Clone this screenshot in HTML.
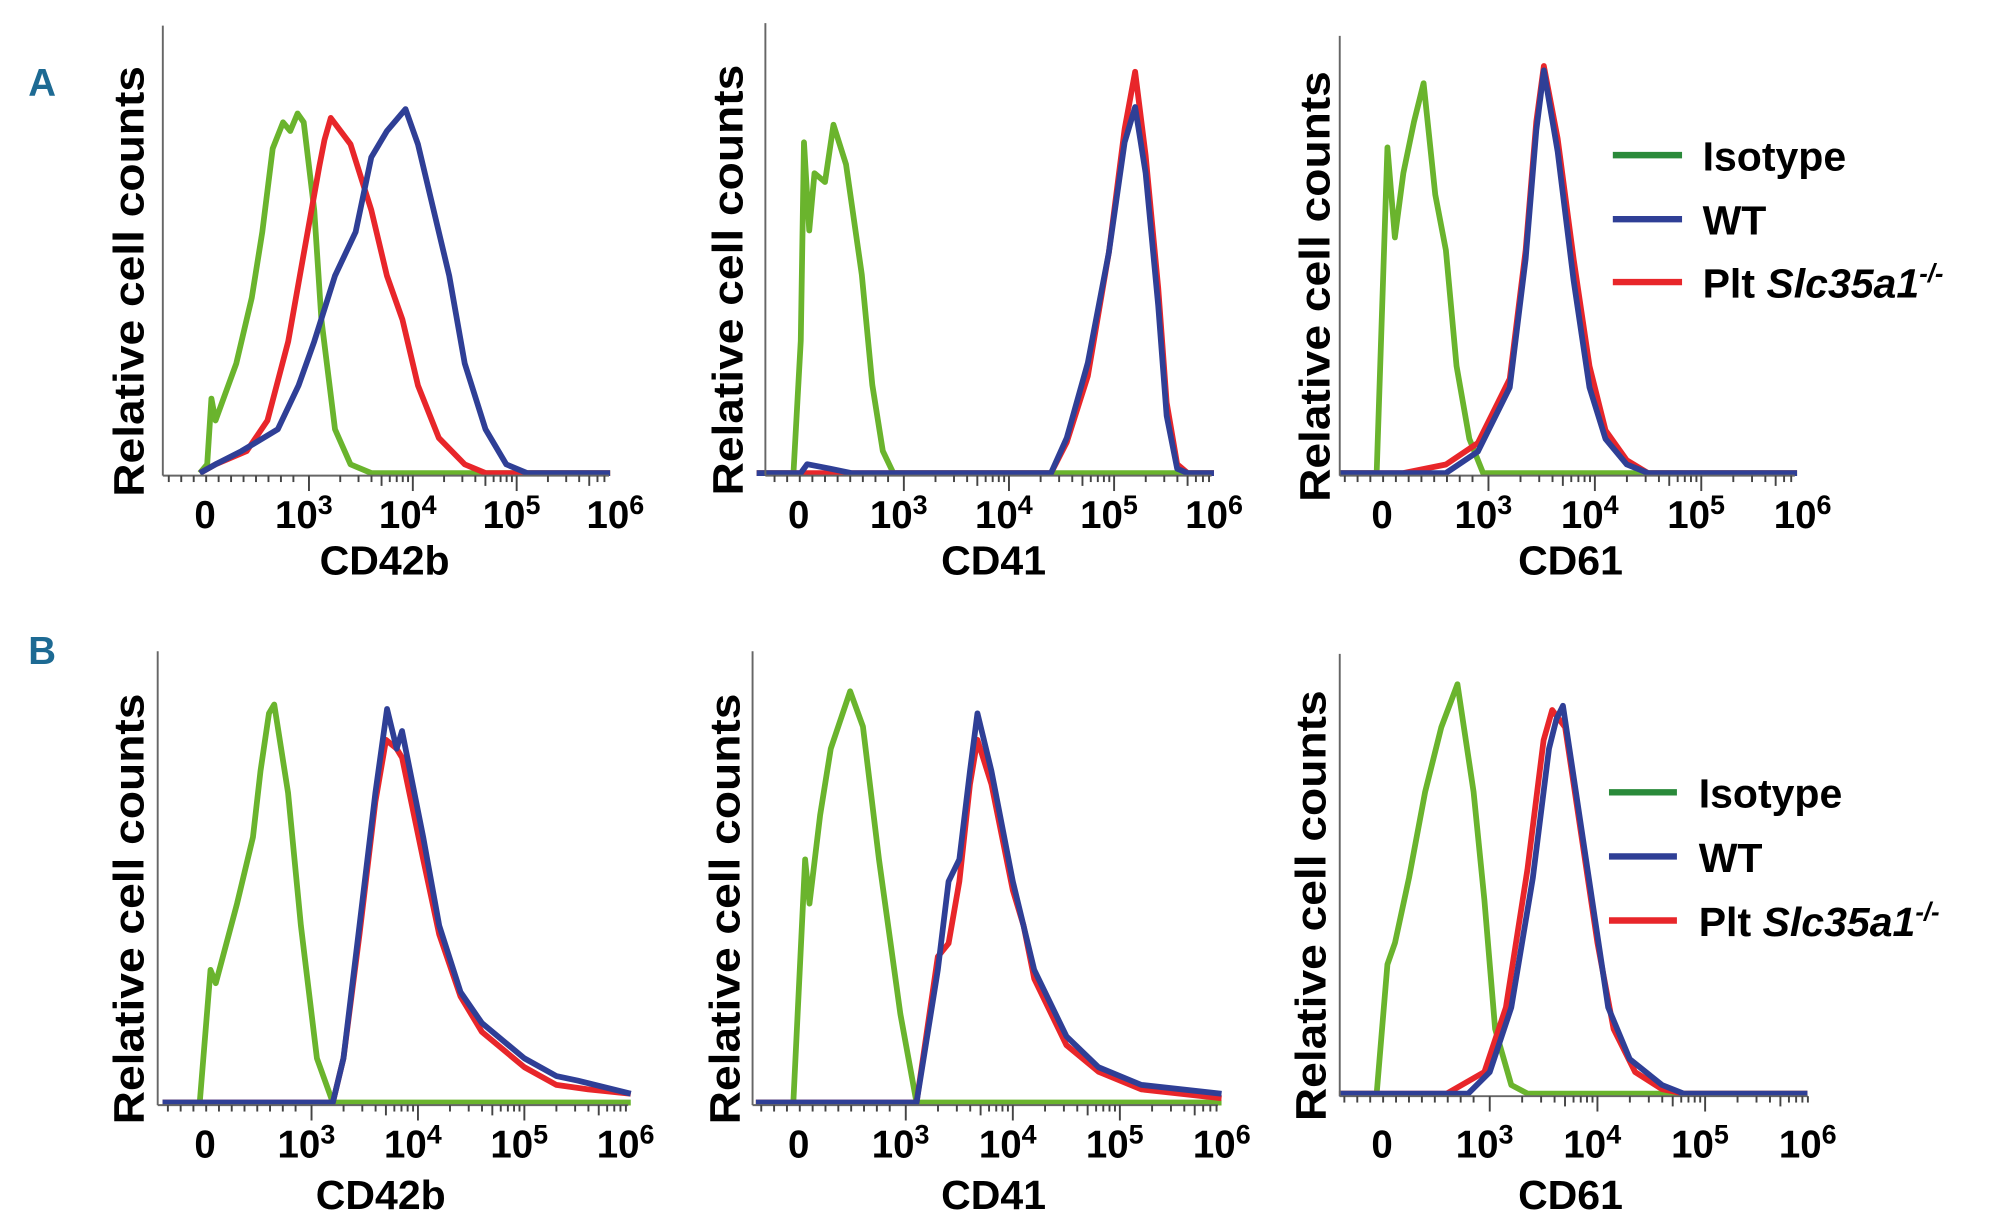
<!DOCTYPE html>
<html><head><meta charset="utf-8"><style>
html,body{margin:0;padding:0;background:#fff;}
svg{display:block;}
text{font-family:"Liberation Sans",sans-serif;font-weight:bold;fill:#000;}
</style></head><body>
<svg id="fig" width="2000" height="1230" viewBox="0 0 1560 959.4" xmlns="http://www.w3.org/2000/svg">
<text x="22" y="75" style="font-size:30px;fill:#1d6a93;font-family:'Liberation Sans Narrow','Liberation Sans',sans-serif">A</text>
<text x="22" y="518" style="font-size:30px;fill:#1d6a93;font-family:'Liberation Sans Narrow','Liberation Sans',sans-serif">B</text>
<g>
<line x1="1258" x2="1312" y1="121" y2="121" stroke="#2a8a3a" stroke-width="5"/>
<text x="1328" y="133" style="font-size:32px">Isotype</text>
<line x1="1258" x2="1312" y1="171" y2="171" stroke="#2f3f96" stroke-width="5"/>
<text x="1328" y="183" style="font-size:32px">WT</text>
<line x1="1258" x2="1312" y1="220" y2="220" stroke="#e8262a" stroke-width="5"/>
<text x="1328" y="232" style="font-size:32px">Plt <tspan font-style="italic">Slc35a1</tspan><tspan dy="-12" font-size="20" font-style="italic">-/-</tspan></text>
</g>
<g>
<line x1="1255" x2="1308" y1="618" y2="618" stroke="#2a8a3a" stroke-width="5"/>
<text x="1325" y="630" style="font-size:32px">Isotype</text>
<line x1="1255" x2="1308" y1="668" y2="668" stroke="#2f3f96" stroke-width="5"/>
<text x="1325" y="680" style="font-size:32px">WT</text>
<line x1="1255" x2="1308" y1="718" y2="718" stroke="#e8262a" stroke-width="5"/>
<text x="1325" y="730" style="font-size:32px">Plt <tspan font-style="italic">Slc35a1</tspan><tspan dy="-12" font-size="20" font-style="italic">-/-</tspan></text>
</g>
</svg>
<script>
// decade positions: 0 -> 0, 10^3 -> 1, 10^4 -> 2, 10^5 -> 3, 10^6 -> 4
const tickLabels = ["0","10","10","10","10"];
const tickExps = ["","3","4","5","6"];
const markers = ["CD42b","CD41","CD61","CD42b","CD41","CD61"];
// series: [position, relative height]
const a1Green=[[-0.05,0],[0.02,0.02],[0.06,0.17],[0.1,0.12],[0.3,0.25],[0.45,0.4],[0.55,0.55],[0.65,0.74],[0.75,0.8],[0.82,0.78],[0.89,0.82],[0.95,0.8],[1.05,0.6],[1.12,0.35],[1.25,0.1],[1.4,0.02],[1.6,0],[3.9,0]];
const a1Red=[[-0.05,0],[0.1,0.02],[0.4,0.05],[0.6,0.12],[0.8,0.3],[0.95,0.5],[1.1,0.7],[1.15,0.76],[1.21,0.81],[1.4,0.75],[1.6,0.6],[1.75,0.45],[1.9,0.35],[2.05,0.2],[2.25,0.08],[2.5,0.02],[2.7,0],[3.9,0]];
const a1Blue=[[-0.05,0],[0.1,0.02],[0.35,0.05],[0.7,0.1],[0.9,0.2],[1.05,0.3],[1.25,0.45],[1.45,0.55],[1.6,0.72],[1.75,0.78],[1.93,0.83],[2.05,0.75],[2.2,0.6],[2.35,0.45],[2.5,0.25],[2.7,0.1],[2.9,0.02],[3.1,0],[3.9,0]];
const a2Green=[[-0.4,0],[-0.05,0],[0.02,0.3],[0.05,0.75],[0.1,0.55],[0.15,0.68],[0.25,0.66],[0.33,0.79],[0.45,0.7],[0.6,0.45],[0.7,0.2],[0.8,0.05],[0.9,0],[3.95,0]];
const a2Red=[[-0.4,0],[2.4,0],[2.55,0.07],[2.75,0.22],[2.95,0.5],[3.1,0.78],[3.2,0.91],[3.3,0.72],[3.42,0.42],[3.5,0.16],[3.6,0.02],[3.7,0],[3.95,0]];
const a2Blue=[[-0.4,0],[0.02,0],[0.08,0.02],[0.3,0.01],[0.5,0],[2.4,0],[2.55,0.08],[2.75,0.25],[2.95,0.5],[3.1,0.75],[3.2,0.83],[3.3,0.68],[3.42,0.38],[3.5,0.13],[3.6,0.01],[3.7,0],[3.95,0]];
const a3Green=[[-0.4,0],[-0.05,0],[0.05,0.76],[0.12,0.55],[0.2,0.7],[0.3,0.82],[0.39,0.91],[0.5,0.65],[0.6,0.52],[0.7,0.25],[0.82,0.08],[0.95,0],[3.9,0]];
const a3Red=[[-0.4,0],[0.2,0],[0.6,0.02],[0.9,0.07],[1.2,0.22],[1.35,0.52],[1.45,0.82],[1.52,0.95],[1.65,0.78],[1.8,0.5],[1.95,0.25],[2.1,0.1],[2.3,0.03],[2.5,0],[3.9,0]];
const a3Blue=[[-0.4,0],[0.6,0],[0.9,0.05],[1.2,0.2],[1.35,0.5],[1.45,0.8],[1.52,0.94],[1.65,0.75],[1.8,0.45],[1.95,0.2],[2.1,0.08],[2.3,0.02],[2.5,0],[3.9,0]];
const b1Green=[[-0.4,0],[-0.05,0],[0.05,0.3],[0.1,0.27],[0.3,0.45],[0.45,0.6],[0.52,0.75],[0.6,0.88],[0.65,0.9],[0.78,0.7],[0.9,0.4],[1.05,0.1],[1.2,0],[4.0,0]];
const b1Red=[[-0.4,0],[1.2,0],[1.3,0.1],[1.45,0.38],[1.6,0.68],[1.7,0.82],[1.8,0.8],[1.85,0.78],[2.05,0.55],[2.2,0.38],[2.4,0.24],[2.6,0.16],[3.0,0.08],[3.3,0.04],[3.6,0.03],[4.0,0.02]];
const b1Blue=[[-0.4,0],[1.2,0],[1.3,0.1],[1.45,0.4],[1.6,0.7],[1.71,0.89],[1.8,0.8],[1.85,0.84],[2.05,0.6],[2.2,0.4],[2.4,0.25],[2.6,0.18],[3.0,0.1],[3.3,0.06],[3.5,0.05],[4.0,0.02]];
const b2Green=[[-0.4,0],[-0.05,0],[0.06,0.55],[0.1,0.45],[0.2,0.65],[0.3,0.8],[0.48,0.93],[0.6,0.85],[0.75,0.55],[0.95,0.2],[1.1,0],[3.95,0]];
const b2Red=[[-0.4,0],[1.1,0],[1.3,0.33],[1.4,0.36],[1.5,0.5],[1.6,0.72],[1.67,0.82],[1.8,0.72],[2.0,0.48],[2.1,0.4],[2.2,0.28],[2.5,0.13],[2.8,0.07],[3.2,0.03],[3.95,0.01]];
const b2Blue=[[-0.4,0],[1.1,0],[1.3,0.3],[1.4,0.5],[1.5,0.55],[1.6,0.75],[1.67,0.88],[1.8,0.75],[2.0,0.5],[2.2,0.3],[2.5,0.15],[2.8,0.08],[3.2,0.04],[3.95,0.02]];
const b3Green=[[-0.4,0],[-0.05,0],[0.05,0.3],[0.12,0.35],[0.25,0.5],[0.4,0.7],[0.55,0.85],[0.7,0.95],[0.85,0.7],[0.95,0.45],[1.05,0.15],[1.2,0.02],[1.35,0],[3.95,0]];
const b3Red=[[-0.4,0],[0.6,0],[0.95,0.05],[1.15,0.2],[1.35,0.52],[1.5,0.82],[1.58,0.89],[1.7,0.85],[1.85,0.6],[2.0,0.35],[2.15,0.15],[2.35,0.05],[2.6,0.01],[2.8,0],[3.95,0]];
const b3Blue=[[-0.4,0],[0.8,0],[1.0,0.05],[1.2,0.2],[1.4,0.5],[1.55,0.8],[1.62,0.87],[1.68,0.9],[1.8,0.7],[1.95,0.45],[2.1,0.2],[2.3,0.08],[2.6,0.02],[2.8,0],[3.95,0]];

const panels=[
 {name:"a-cd42b",ax:127,top:20,base:369,right:475,x0:160,dec:81,yl:100,tl:412,tt:448,tx:300,series:[a1Green,a1Red,a1Blue]},
 {name:"a-cd41",ax:597,top:18,base:369,right:945,x0:623,dec:82,yl:567,tl:412,tt:448,tx:775,series:[a2Green,a2Red,a2Blue]},
 {name:"a-cd61",ax:1045,top:28,base:369,right:1400,x0:1078,dec:83,yl:1025,tl:412,tt:448,tx:1225,series:[a3Green,a3Red,a3Blue]},
 {name:"b-cd42b",ax:123,top:508,base:860,right:490,x0:160,dec:83,yl:100,tl:903,tt:943,tx:297,series:[b1Green,b1Red,b1Blue]},
 {name:"b-cd41",ax:587,top:508,base:860,right:950,x0:623,dec:83.5,yl:565,tl:903,tt:943,tx:775,series:[b2Green,b2Red,b2Blue]},
 {name:"b-cd61",ax:1045,top:510,base:853,right:1410,x0:1078,dec:84,yl:1022,tl:903,tt:943,tx:1225,series:[b3Green,b3Red,b3Blue]}
];
const colors=["#6ab42d","#e8262a","#2f3f96"];
const seriesNames=["isotype-histogram","plt-slc35a1-ko-histogram","wt-histogram"];
const NS="http://www.w3.org/2000/svg";
const svg=document.getElementById("fig");
function mk(tag,attrs,parent){const e=document.createElementNS(NS,tag);for(const k in attrs)e.setAttribute(k,attrs[k]);parent.appendChild(e);return e;}
panels.forEach((p,pi)=>{
 const g=mk("g",{},svg);
 
 
 const xs=v=>p.x0+v*p.dec;
 const ys=v=>p.base-v*(p.base-p.top)*0.98;
 p.series.forEach((s,si)=>{
  const d=s.map((pt,i)=>(i?"L":"M")+xs(pt[0]).toFixed(1)+","+ys(pt[1]).toFixed(1)).join("");
  const path=mk("path",{d:d,fill:"none",stroke:colors[si],"stroke-width":4.5,"stroke-linejoin":"round"},g);
  
  
 });
 const ya=mk("line",{x1:p.ax,x2:p.ax,y1:p.top,y2:p.base+2,stroke:"#666","stroke-width":1.5},g);
 
 
 const xa=mk("line",{x1:p.ax,x2:p.right,y1:p.base+2,y2:p.base+2,stroke:"#666","stroke-width":1.5},g);
 
 
 const tk=[];
 for(let v=-0.35;v<0.95;v+=0.12)tk.push([v,5]);
 for(let d=1;d<4;d++){tk.push([d,12]);for(let k=2;k<10;k++)tk.push([d+Math.log10(k),k==5?8:5]);}
 tk.push([4,12]);
 tk.forEach(t=>{const x=xs(t[0]);if(x<p.ax||x>p.right+1)return;
  const l=mk("line",{x1:x,x2:x,y1:p.base+2,y2:p.base+2+t[1],stroke:"#444","stroke-width":1.5},g);
  
  });
 tickLabels.forEach((lab,i)=>{
  const t=mk("text",{x:xs(i)-(i?4:0),y:p.tl,"text-anchor":"middle","font-size":30},g);
  
  
  t.textContent=lab;
  if(tickExps[i]){const sp=mk("tspan",{dy:-11,"font-size":21},t);sp.textContent=tickExps[i];}
 });
 const tt=mk("text",{x:p.tx,y:p.tt,"text-anchor":"middle","font-size":32},g);
 
 
 tt.textContent=markers[pi];
 const cy=(p.top+p.base)/2+25;
 const yt=mk("text",{x:0,y:0,"text-anchor":"middle","font-size":33,transform:`translate(${p.yl+12},${cy}) rotate(-90)`,textLength:336,lengthAdjust:"spacingAndGlyphs"},g);
 
 
 yt.textContent=pi==5?"Relative  cell counts":"Relative cell counts";
});
</script>
</body></html>
